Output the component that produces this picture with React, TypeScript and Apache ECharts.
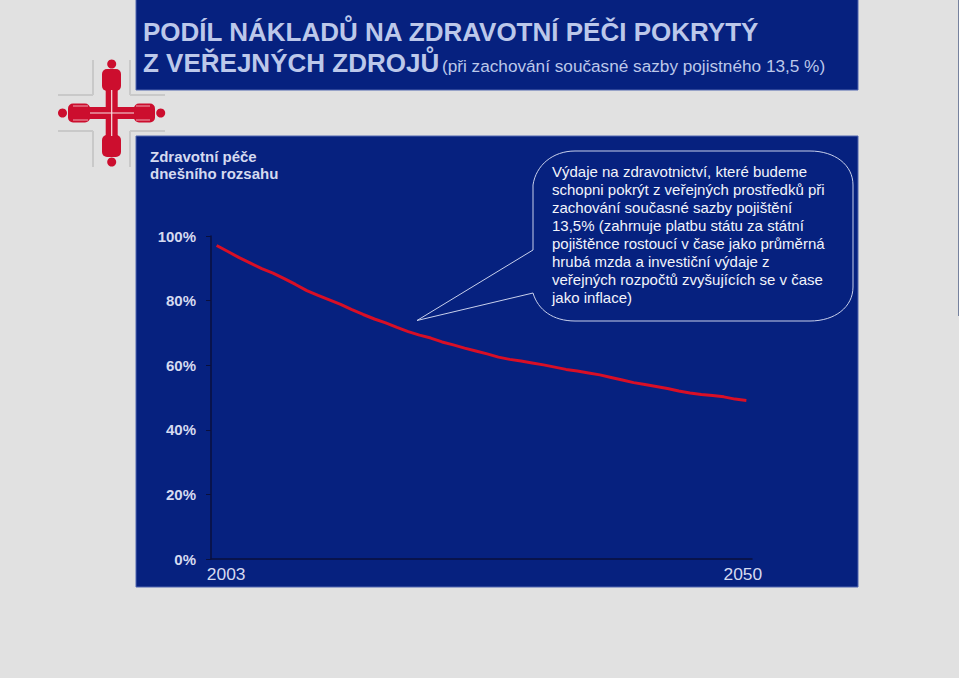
import React, { useEffect, useRef } from "react";
import * as echarts from "echarts";

const years = ["2003","2004","2005","2006","2007","2008","2009","2010","2011","2012","2013","2014","2015","2016","2017","2018","2019","2020","2021","2022","2023","2024","2025","2026","2027","2028","2029","2030","2031","2032","2033","2034","2035","2036","2037","2038","2039","2040","2041","2042","2043","2044","2045","2046","2047","2048","2049","2050"];
const coverage = [97.06,95.2,93.3,91.6,89.9,88.5,86.8,85.0,83.1,81.6,80.2,78.8,77.2,75.7,74.3,73.1,71.7,70.4,69.3,68.4,67.2,66.3,65.3,64.4,63.5,62.5,61.8,61.3,60.7,60.1,59.4,58.7,58.2,57.6,57.0,56.2,55.4,54.6,54.0,53.4,52.8,52.0,51.4,50.9,50.6,50.2,49.5,49.1];
const titleLine1 = "PODÍL NÁKLADŮ NA ZDRAVOTNÍ PÉČI POKRYTÝ";
const titleLine2 = "Z VEŘEJNÝCH ZDROJŮ";
const titleNote = "(při zachování současné sazby pojistného 13,5 %)";
const sideLabel = ["Zdravotní péče", "dnešního rozsahu"];
const calloutLines = [
  "Výdaje na zdravotnictví, které budeme",
  "schopni pokrýt z veřejných prostředků při",
  "zachování současné sazby pojištění",
  "13,5% (zahrnuje platbu státu za státní",
  "pojištěnce rostoucí v čase jako průměrná",
  "hrubá mzda a investiční výdaje z",
  "veřejných rozpočtů zvyšujících se v čase",
  "jako inflace)",
];

const PANEL = "#06217f";
const LIGHT = "#d5daf0";
const RED = "#cc0e2e";
const SANS = '"Liberation Sans", Arial, sans-serif';
const calloutPath = "M575 151 L810 151 C835 151 853 165 853 185 L853 287 C853 307 835 321 810 321 L575 321 C553 321 538 310 533 293 L417 320.5 L533 250 L533 185 C536 165 553 151 575 151 Z";

echarts.graphic.registerShape("callout", echarts.graphic.extendPath(calloutPath, {}));

function grayLine(x1: number, y1: number, x2: number, y2: number) {
  return { type: "line", z: -5, shape: { x1, y1, x2, y2 }, style: { stroke: "#c9c9c9", lineWidth: 2 } };
}
function redRect(x: number, y: number, width: number, height: number, r: number) {
  return { type: "rect", z: -4, shape: { x, y, width, height, r }, style: { fill: RED } };
}
function redHead(cx: number, cy: number) {
  return { type: "circle", z: -4, shape: { cx, cy, r: 4.5 }, style: { fill: RED } };
}
function paleLine(x1: number, y1: number, x2: number, y2: number, color = "#f5dfe2") {
  return { type: "line", z: -3, shape: { x1, y1, x2, y2 }, style: { stroke: color, lineWidth: 1.2 } };
}

const logo = [
  grayLine(58, 95, 93, 95), grayLine(93, 60, 93, 95),
  grayLine(130, 95, 165, 95), grayLine(130, 60, 130, 95),
  grayLine(58, 131, 93, 131), grayLine(93, 131, 93, 167),
  grayLine(130, 131, 165, 131), grayLine(130, 131, 130, 167),
  redRect(105.7, 85, 12, 56, 0), redRect(85, 107, 54, 12, 0),
  redRect(102, 69, 19, 22, 5), redRect(102, 135, 19, 22, 5),
  redRect(68, 103.5, 22, 19, 5), redRect(134, 103.5, 21, 19, 5),
  redHead(111.7, 64), redHead(111.7, 162), redHead(62.5, 113), redHead(160.7, 113),
  paleLine(111.7, 90, 111.7, 136), paleLine(90, 113, 134, 113),
  paleLine(73, 106, 88, 106, "#e8909e"), paleLine(73, 120, 88, 120, "#e8909e"),
  paleLine(136, 106, 150, 106, "#e8909e"), paleLine(136, 120, 150, 120, "#e8909e"),
];

function text(t: string, x: number, y: number, font: string, fill: string) {
  return { type: "text", z: 6, style: { text: t, x, y, font, fill, textVerticalAlign: "middle", textAlign: "left" } };
}

export default function App() {
  const ref = useRef<HTMLDivElement>(null);
  useEffect(() => {
    const chart = echarts.init(ref.current!, undefined, { renderer: "svg" });
    chart.setOption({
      animation: false,
      backgroundColor: "#e1e1e1",
      grid: { left: 211, right: 207, top: 236, bottom: 119 },
      xAxis: {
        type: "category",
        data: years,
        axisLine: { lineStyle: { color: "#0a0f3c", width: 1.5 } },
        axisTick: { show: false },
        axisLabel: {
          interval: (i: number) => i === 0 || i === years.length - 1,
          margin: 6,
          color: LIGHT,
          fontFamily: SANS,
          fontSize: 17.4,
          formatter: (v: string) => (v === years[0] ? `{a|${v}}` : `{b|${v}}`),
          rich: {
            a: { padding: [0, 0, 0, 19], color: LIGHT, fontFamily: SANS, fontSize: 17.4 },
            b: { padding: [0, 7, 0, 0], color: LIGHT, fontFamily: SANS, fontSize: 17.4 },
          },
        },
      },
      yAxis: {
        type: "value",
        min: 0,
        max: 100,
        interval: 20,
        splitLine: { show: false },
        axisLine: { show: true, lineStyle: { color: "#0a0f3c", width: 1.5 } },
        axisTick: { show: true, length: 5, lineStyle: { color: "#0a0f3c" } },
        axisLabel: {
          margin: 15,
          formatter: "{value}%",
          color: LIGHT,
          fontFamily: SANS,
          fontWeight: "bold",
          fontSize: 15,
        },
      },
      series: [
        {
          type: "line",
          data: coverage,
          showSymbol: false,
          symbol: "none",
          lineStyle: { color: "#d80f26", width: 3 },
        },
      ],
      graphic: [
        { type: "rect", z: -10, shape: { x: 136, y: -2, width: 722, height: 92 }, style: { fill: PANEL, stroke: "#5067b0", lineWidth: 1 } },
        { type: "rect", z: -10, shape: { x: 136, y: 136, width: 722, height: 451 }, style: { fill: PANEL, stroke: "#5067b0", lineWidth: 1 } },
        { type: "rect", z: -10, shape: { x: 958, y: 0, width: 1, height: 316 }, style: { fill: "#76829e" } },
        ...logo,
        text(titleLine1, 143, 32, `bold 26px ${SANS}`, "#bcc8ea"),
        text(titleLine2, 143, 63, `bold 26px ${SANS}`, "#bcc8ea"),
        text(titleNote, 442, 66, `17.2px ${SANS}`, "#bcc8ea"),
        text(sideLabel[0], 150, 156, `bold 15px ${SANS}`, LIGHT),
        text(sideLabel[1], 150, 173, `bold 15px ${SANS}`, LIGHT),
        { type: "callout", z: 4, style: { fill: PANEL, stroke: "#c8d0ec", lineWidth: 1 } },
        ...calloutLines.map((l, i) => text(l, 552, 171 + i * 18, `15px ${SANS}`, "#f2f4fb")),
      ],
    });
    return () => chart.dispose();
  }, []);
  return <div ref={ref} style={{ position: "fixed", left: 0, top: 0, width: 959, height: 678 }} />;
}
